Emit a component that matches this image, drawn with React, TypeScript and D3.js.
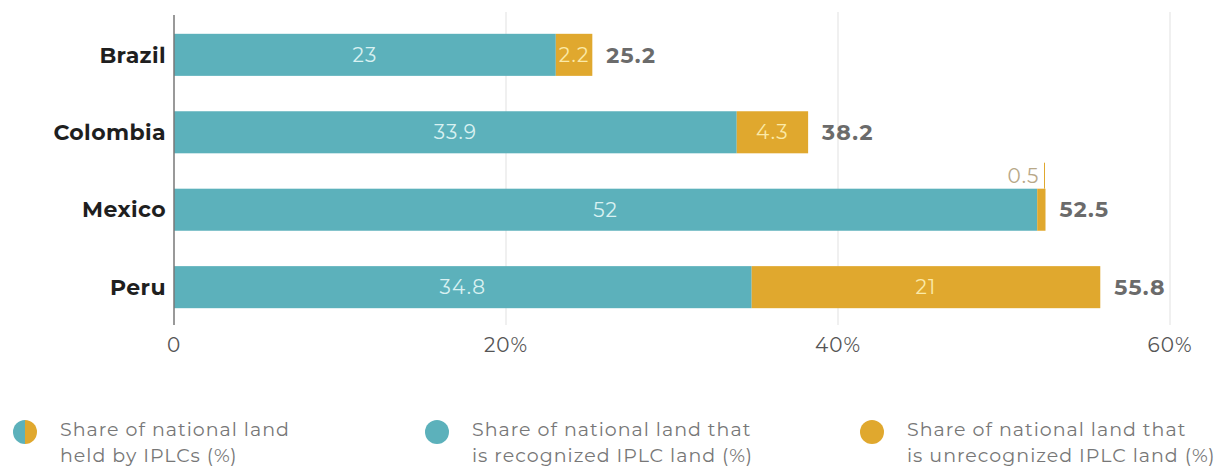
import React from "react";
import * as d3 from "d3";

const countries = ["Brazil", "Colombia", "Mexico", "Peru"];
const recognized = [23, 33.9, 52, 34.8];
const unrecognized = [2.2, 4.3, 0.5, 21];
const totals = [25.2, 38.2, 52.5, 55.8];
const ticks = [0, 20, 40, 60];
const legendItems = [
  ["Share of national land", "held by IPLCs (%)"],
  ["Share of national land that", "is recognized IPLC land (%)"],
  ["Share of national land that", "is unrecognized IPLC land (%)"],
];

const W = 1229;
const H = 469;
const TEAL = "#5cb1bb";
const GOLD = "#e0a82e";
const FONT = "Montserrat, 'Open Sans', sans-serif";

export default function App() {
  const x = d3.scaleLinear().domain([0, 60]).range([174, 1170]);
  const y = d3
    .scaleBand<string>()
    .domain(countries)
    .range([16, 326])
    .paddingInner(0.457)
    .paddingOuter(0.23);
  const bw = y.bandwidth();
  const legendX = [25, 437, 872];

  return (
    <div style={{ position: "absolute", left: 0, top: 0 }}>
      <svg width={W} height={H} style={{ display: "block", background: "#fff" }} fontFamily={FONT}>
        {ticks.slice(1).map((t) => (
          <line key={t} x1={x(t)} x2={x(t)} y1={12} y2={325} stroke="#ebebeb" strokeWidth={1.5} />
        ))}
        {countries.map((c, i) => {
          const y0 = y(c)!;
          const cy = y0 + bw / 2;
          const r = recognized[i];
          const u = unrecognized[i];
          const small = u < 1;
          return (
            <g key={c}>
              <rect x={x(0)} y={y0} width={x(r) - x(0)} height={bw} fill={TEAL} />
              <rect x={x(r)} y={y0} width={x(r + u) - x(r)} height={bw} fill={GOLD} />
              <text x={(x(0) + x(r)) / 2} y={cy} dy="0.35em" textAnchor="middle" fontSize={20} letterSpacing={1.1} fill="#d9f1f2">
                {r}
              </text>
              {small ? (
                <g>
                  <line x1={x(r + u) - 1} x2={x(r + u) - 1} y1={y0 - 26} y2={y0} stroke={GOLD} strokeWidth={1} />
                  <text x={x(r + u) - 6} y={y0 - 13} dy="0.35em" textAnchor="end" fontSize={20} letterSpacing={1.1} fill="#b8a888">
                    {u}
                  </text>
                </g>
              ) : (
                <text x={(x(r) + x(r + u)) / 2} y={cy} dy="0.35em" textAnchor="middle" fontSize={20} letterSpacing={1.1} fill="#fbeaa8">
                  {u}
                </text>
              )}
              <text x={x(totals[i]) + 14} y={cy} dy="0.35em" fontSize={22} letterSpacing={1.2} fontWeight={700} fill="#6b6b6b">
                {totals[i]}
              </text>
              <text x={166} y={cy} dy="0.35em" textAnchor="end" fontSize={22} letterSpacing={0.4} fontWeight={700} fill="#1f1f1f">
                {c}
              </text>
            </g>
          );
        })}
        <line x1={x(0)} x2={x(0)} y1={15} y2={325} stroke="#777" strokeWidth={1.5} />
        {ticks.map((t) => (
          <text key={t} x={x(t)} y={345} dy="0.35em" textAnchor="middle" fontSize={20} letterSpacing={1} fill="#555">
            {t === 0 ? "0" : `${t}%`}
          </text>
        ))}
        {legendItems.map((lines, i) => {
          const cx = legendX[i];
          const cy = 432;
          const rr = 12;
          return (
            <g key={i}>
              {i === 0 ? (
                <g>
                  <path d={`M${cx},${cy - rr} A${rr},${rr} 0 0 0 ${cx},${cy + rr} Z`} fill={TEAL} />
                  <path d={`M${cx},${cy - rr} A${rr},${rr} 0 0 1 ${cx},${cy + rr} Z`} fill={GOLD} />
                </g>
              ) : (
                <circle cx={cx} cy={cy} r={rr} fill={i === 1 ? TEAL : GOLD} />
              )}
              {lines.map((l, j) => (
                <text key={j} x={cx + 35} y={429 + j * 26} dy="0.35em" fontSize={19} letterSpacing={1} fill="#777">
                  {l}
                </text>
              ))}
            </g>
          );
        })}
      </svg>
    </div>
  );
}
